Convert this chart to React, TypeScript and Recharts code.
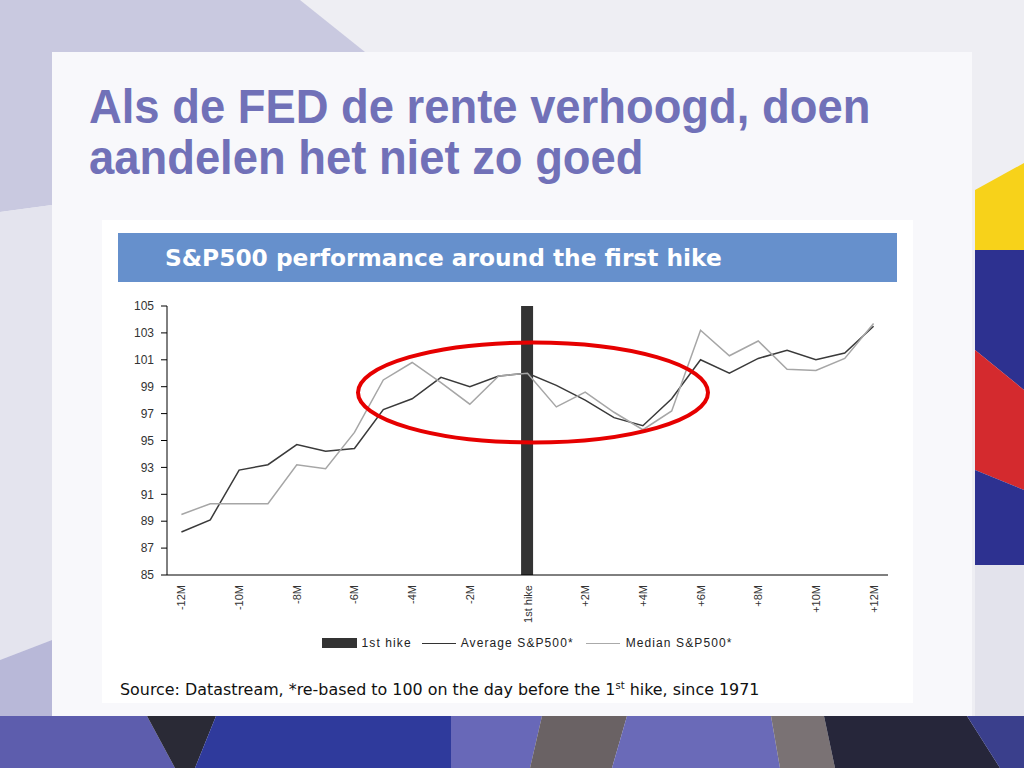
import React from 'react';
import { ComposedChart, Line, Bar, XAxis, YAxis, Legend } from 'recharts';

const months = [
  '-12M', '-11M', '-10M', '-9M', '-8M', '-7M', '-6M', '-5M', '-4M', '-3M', '-2M', '-1M',
  '1st hike',
  '+1M', '+2M', '+3M', '+4M', '+5M', '+6M', '+7M', '+8M', '+9M', '+10M', '+11M', '+12M',
];
const averageSP = [88.2, 89.1, 92.8, 93.2, 94.7, 94.2, 94.4, 97.3, 98.1, 99.7, 99.0, 99.8, 100.0, 99.1, 98.0, 96.7, 96.1, 98.1, 101.0, 100.0, 101.1, 101.7, 101.0, 101.5, 103.5];
const medianSP = [89.5, 90.3, 90.3, 90.3, 93.2, 92.9, 95.6, 99.5, 100.8, 99.3, 97.7, 99.8, 100.0, 97.5, 98.6, 97.1, 95.8, 97.2, 103.2, 101.3, 102.4, 100.3, 100.2, 101.1, 103.7];
const firstHike = [null, null, null, null, null, null, null, null, null, null, null, null, 105, null, null, null, null, null, null, null, null, null, null, null, null];
const yTicks = [85, 87, 89, 91, 93, 95, 97, 99, 101, 103, 105];
const boundaryTicks = Array.from({ length: months.length + 1 }, (_, i) => i);

const data = months.map((m, i) => ({
  month: m,
  hike: firstHike[i],
  average: averageSP[i],
  median: medianSP[i],
}));

const AXIS_FONT = '"Liberation Sans", Arial, sans-serif';

const XTick = (props: any) => {
  const { x, y, payload } = props;
  return (
    <g transform={`translate(${x},${y})`}>
      <text
        transform="rotate(-90)"
        x={-8}
        y={0}
        dy={4}
        textAnchor="end"
        fontSize={11}
        fontFamily={AXIS_FONT}
        fill="#333"
      >
        {payload.value}
      </text>
    </g>
  );
};

const EmptyTick = () => <g />;

const LegendContent = () => (
  <div
    style={{
      display: 'flex',
      justifyContent: 'center',
      alignItems: 'center',
      height: 24,
      fontFamily: AXIS_FONT,
      fontSize: 12,
      letterSpacing: 1.1,
      color: '#222',
      paddingLeft: 64,
      marginTop: -3,
    }}
  >
    <span style={{ display: 'inline-block', width: 35, height: 10, background: '#333', marginRight: 5 }} />
    <span style={{ marginRight: 10 }}>1st hike</span>
    <span style={{ display: 'inline-block', width: 34, height: 0, borderTop: '1.5px solid #333', marginRight: 5 }} />
    <span style={{ marginRight: 12 }}>Average S&amp;P500*</span>
    <span style={{ display: 'inline-block', width: 34, height: 0, borderTop: '1.5px solid #aaa', marginRight: 6 }} />
    <span>Median S&amp;P500*</span>
  </div>
);

const Background = () => (
  <svg width={1024} height={768} style={{ position: 'absolute', left: 0, top: 0 }}>
    <rect x={0} y={0} width={1024} height={768} fill="#EEEEF3" />
    <polygon points="0,0 300,0 365,52 52,52 52,205 0,212" fill="#C9C9E0" />
    <polygon points="0,212 52,205 52,640 0,660" fill="#E4E4EE" />
    <polygon points="0,660 52,640 52,716 0,716" fill="#B8B8D8" />
    {/* right strip */}
    <polygon points="975,190 1024,163 1024,250 975,250" fill="#F7D21A" />
    <polygon points="975,250 1024,250 1024,390 975,350" fill="#2D3190" />
    <polygon points="975,350 1024,390 1024,490 975,470" fill="#D42A2E" />
    <polygon points="975,470 1024,490 1024,565 975,565" fill="#2D3190" />
    <polygon points="975,565 1024,565 1024,768 975,768" fill="#E3E3EC" />
    {/* bottom band */}
    <polygon points="0,716 147,716 175,768 0,768" fill="#5D5DAD" />
    <polygon points="147,716 216,716 195,768 175,768" fill="#2A2A36" />
    <polygon points="216,716 451,716 451,768 195,768" fill="#2F3A9C" />
    <polygon points="451,716 542,716 530,768 451,768" fill="#6868B8" />
    <polygon points="542,716 627,716 612,768 530,768" fill="#6A6264" />
    <polygon points="627,716 771,716 780,768 612,768" fill="#6A6AB8" />
    <polygon points="771,716 824,716 835,768 780,768" fill="#7A7274" />
    <polygon points="824,716 967,716 1000,768 835,768" fill="#26263A" />
    <polygon points="967,716 1024,716 1024,768 1000,768" fill="#3A3F8C" />
  </svg>
);

export default function App() {
  return (
    <div style={{ position: 'absolute', left: 0, top: 0, width: 1024, height: 768, overflow: 'hidden' }}>
      <Background />
      {/* slide panel */}
      <div style={{ position: 'absolute', left: 52, top: 52, width: 920, height: 664, background: 'rgba(248,248,251,0.96)' }} />
      {/* title */}
      <div
        style={{
          position: 'absolute',
          left: 89,
          top: 81,
          fontFamily: '"Liberation Sans", Arial, sans-serif',
          fontWeight: 700,
          fontSize: 47.5,
          lineHeight: '51px',
          color: '#7171B8',
          whiteSpace: 'nowrap',
          transform: 'scaleX(0.955)',
          transformOrigin: 'left top',
        }}
      >
        <div>Als de FED de rente verhoogd, doen</div>
        <div>aandelen het niet zo goed</div>
      </div>
      {/* chart picture */}
      <div style={{ position: 'absolute', left: 102, top: 220, width: 811, height: 483, background: '#FFFFFF' }} />
      <div
        style={{
          position: 'absolute',
          left: 118,
          top: 233,
          width: 779,
          height: 49,
          background: '#6690CC',
          color: '#FFFFFF',
          fontFamily: '"DejaVu Sans", Verdana, sans-serif',
          fontWeight: 700,
          fontSize: 23.3,
          lineHeight: '49px',
          paddingLeft: 47,
          boxSizing: 'border-box',
          whiteSpace: 'nowrap',
        }}
      >
        S&amp;P500 performance around the first hike
      </div>
      <div style={{ position: 'absolute', left: 102, top: 284 }}>
        <ComposedChart
          width={811}
          height={374}
          data={data}
          margin={{ top: 22, right: 25, left: 0, bottom: 0 }}
          barCategoryGap={0}
        >
          <XAxis
            xAxisId="bounds"
            type="number"
            dataKey={() => 0}
            domain={[0, months.length]}
            ticks={boundaryTicks}
            allowDataOverflow
            height={0}
            axisLine={false}
            tickLine={{ stroke: '#000', strokeWidth: 1 }}
            tickSize={4}
            tick={EmptyTick}
            interval={0}
          />
          <XAxis
            dataKey="month"
            interval={1}
            height={59}
            axisLine={{ stroke: '#000', strokeWidth: 1 }}
            tickLine={false}
            tickSize={0}
            tick={<XTick />}
          />
          <YAxis
            domain={[85, 105]}
            ticks={yTicks}
            width={65}
            interval={0}
            axisLine={{ stroke: '#000', strokeWidth: 1 }}
            tickLine={{ stroke: '#000', strokeWidth: 1 }}
            tickSize={6}
            tickMargin={7}
            tick={{ fontSize: 12, fontFamily: AXIS_FONT, fill: '#333' }}
          />
          <Legend verticalAlign="bottom" height={24} content={<LegendContent />} />
          <Bar dataKey="hike" name="1st hike" fill="#333333" barSize={12} isAnimationActive={false} />
          <Line
            type="linear"
            dataKey="average"
            name="Average S&P500*"
            stroke="#3A3A3A"
            strokeWidth={1.5}
            dot={false}
            isAnimationActive={false}
          />
          <Line
            type="linear"
            dataKey="median"
            name="Median S&P500*"
            stroke="#A6A6A6"
            strokeWidth={1.5}
            dot={false}
            isAnimationActive={false}
          />
        </ComposedChart>
      </div>
      {/* red highlight ellipse */}
      <svg width={1024} height={768} style={{ position: 'absolute', left: 0, top: 0, pointerEvents: 'none' }}>
        <ellipse cx={533} cy={392.5} rx={175} ry={50} fill="none" stroke="#E60000" strokeWidth={4} />
      </svg>
      {/* source */}
      <div
        style={{
          position: 'absolute',
          left: 120,
          top: 680,
          fontFamily: '"DejaVu Sans", Verdana, sans-serif',
          fontSize: 15.9,
          color: '#111',
          whiteSpace: 'nowrap',
        }}
      >
        Source: Datastream, *re-based to 100 on the day before the 1<sup style={{ fontSize: 10 }}>st</sup> hike, since 1971
      </div>
    </div>
  );
}
